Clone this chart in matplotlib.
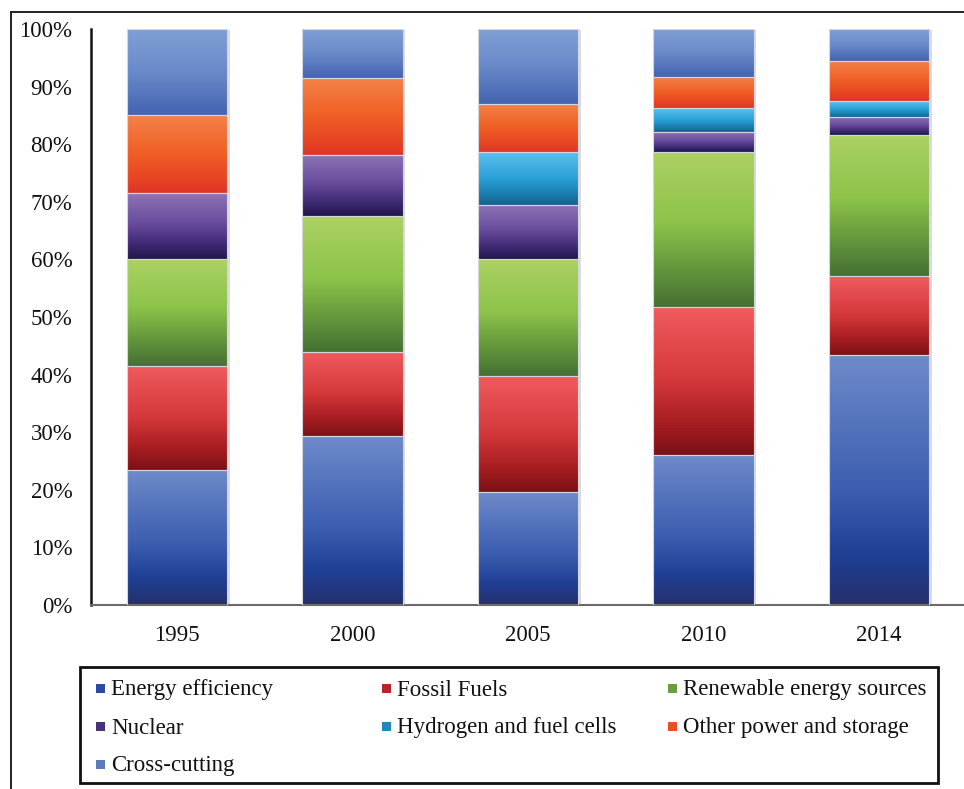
import numpy as np
import matplotlib
matplotlib.use("Agg")
import matplotlib.pyplot as plt
from matplotlib.colors import LinearSegmentedColormap
from matplotlib.patches import Rectangle
from matplotlib.lines import Line2D
from matplotlib import patheffects as pe

# Share of funding by technology area (%), per year
years = ["1995", "2000", "2005", "2010", "2014"]
energy_efficiency = [23.4, 29.3, 19.6, 26.0, 43.4]
fossil_fuels = [18.1, 14.6, 20.2, 25.8, 13.7]
renewables = [18.6, 23.6, 20.3, 26.8, 24.5]
nuclear = [11.4, 10.6, 9.3, 3.5, 3.2]
hydrogen = [0.0, 0.0, 9.2, 4.1, 2.7]
other_power = [13.6, 13.4, 8.4, 5.5, 7.0]
cross_cutting = [14.9, 8.5, 13.0, 8.3, 5.5]

series_names = ["Energy efficiency", "Fossil Fuels", "Renewable energy sources",
                "Nuclear", "Hydrogen and fuel cells", "Other power and storage",
                "Cross-cutting"]
series_values = [energy_efficiency, fossil_fuels, renewables, nuclear,
                 hydrogen, other_power, cross_cutting]

# vertical gradient stops (top -> bottom) for each series
gradients = [
    [(0.0, "#6E8AC9"), (0.55, "#3B5DB0"), (0.8, "#1F3F94"), (1.0, "#26306C")],
    [(0.0, "#F05C5E"), (0.5, "#D4383B"), (0.8, "#A51C20"), (1.0, "#7A1216")],
    [(0.0, "#ACD163"), (0.45, "#8DC44A"), (0.75, "#64963C"), (1.0, "#447133")],
    [(0.0, "#8C74B4"), (0.45, "#6A4C9E"), (0.8, "#3B2770"), (1.0, "#22164A")],
    [(0.0, "#5EC0ED"), (0.5, "#28A0D8"), (0.8, "#1A7CAE"), (1.0, "#15628C")],
    [(0.0, "#F2834A"), (0.5, "#F05E24"), (0.8, "#E84624"), (1.0, "#DE3526")],
    [(0.0, "#809FD5"), (0.5, "#6A89C9"), (1.0, "#4463B1")],
]
cmaps = [LinearSegmentedColormap.from_list(f"g{i}", g) for i, g in enumerate(gradients)]

W, H = 964, 789
fig = plt.figure(figsize=(W / 100, H / 100), dpi=100)
fig.patch.set_facecolor("white")

def fx(px):
    return px / W

def fy(py):
    return 1 - py / H

ax = fig.add_axes([fx(91), fy(605), fx(968.5) - fx(91), fy(29) - fy(605)])
x = np.arange(len(years))
bar_w = 0.57

# soft shadow behind each stacked column
totals = np.sum(series_values, axis=0)
ax.bar(x, totals, width=bar_w, color="white", edgecolor="none", zorder=1,
       path_effects=[pe.SimplePatchShadow(offset=(2, -1), shadow_rgbFace="#9a9a9a", alpha=0.35),
                     pe.Normal()])

grad = np.linspace(0, 1, 256).reshape(-1, 1)
bottom = np.zeros(len(years))
for vals, cmap in zip(series_values, cmaps):
    bars = ax.bar(x, vals, width=bar_w, bottom=bottom, color="none",
                  edgecolor="#d4d6de", linewidth=0.8, zorder=3)
    for rect in bars:
        h = rect.get_height()
        if h <= 0:
            continue
        x0, y0, w = rect.get_x(), rect.get_y(), rect.get_width()
        ax.imshow(grad, cmap=cmap, extent=[x0, x0 + w, y0, y0 + h], origin="upper",
                  aspect="auto", interpolation="bilinear", zorder=2)
    bottom = bottom + np.array(vals)

ax.set_xlim(-0.49, len(years) - 0.49)
ax.set_ylim(0, 100)
ax.set_xticks(x)
ax.set_xticklabels(years)
ax.set_yticks(np.arange(0, 101, 10))
ax.set_yticklabels([f"{v}%" for v in range(0, 101, 10)])
ax.tick_params(axis="both", length=0, labelsize=16.5, colors="#111111")
ax.tick_params(axis="y", pad=13.5)
ax.tick_params(axis="x", pad=14.5)
for lab in ax.get_xticklabels() + ax.get_yticklabels():
    lab.set_fontfamily("Liberation Serif")
for s in ["top", "right"]:
    ax.spines[s].set_visible(False)
ax.spines["left"].set_color("#111111")
ax.spines["left"].set_linewidth(1.8)
ax.spines["bottom"].set_color("#6a6a6a")
ax.spines["bottom"].set_linewidth(1.5)
ax.set_facecolor("none")

# outer frame around the figure
fig.add_artist(Line2D([fx(11), fx(11)], [fy(12), 0], color="#222222", lw=1.4))
fig.add_artist(Line2D([fx(11), 1], [fy(12), fy(12)], color="#222222", lw=1.4))

# legend laid out in three columns
fig.add_artist(Rectangle((fx(80), fy(783)), fx(938) - fx(80), fy(667) - fy(783),
                         transform=fig.transFigure, facecolor="white",
                         edgecolor="#111111", lw=2))
col_x = [96, 382, 668]
row_y = [689, 727, 765]
positions = [(0, 0), (1, 0), (2, 0), (0, 1), (1, 1), (2, 1), (0, 2)]
for name, cmap, (c, r) in zip(series_names, cmaps, positions):
    mx, my = col_x[c], row_y[r]
    fig.add_artist(Rectangle((fx(mx), fy(my + 4)), fx(9), 9 / H,
                             transform=fig.transFigure, facecolor=cmap(0.7),
                             edgecolor="none"))
    fig.text(fx(mx + 15), fy(my + 1), name, fontsize=16.5, family="Liberation Serif",
             color="#111111", va="center", ha="left")

fig.savefig("out.png", dpi=100)
